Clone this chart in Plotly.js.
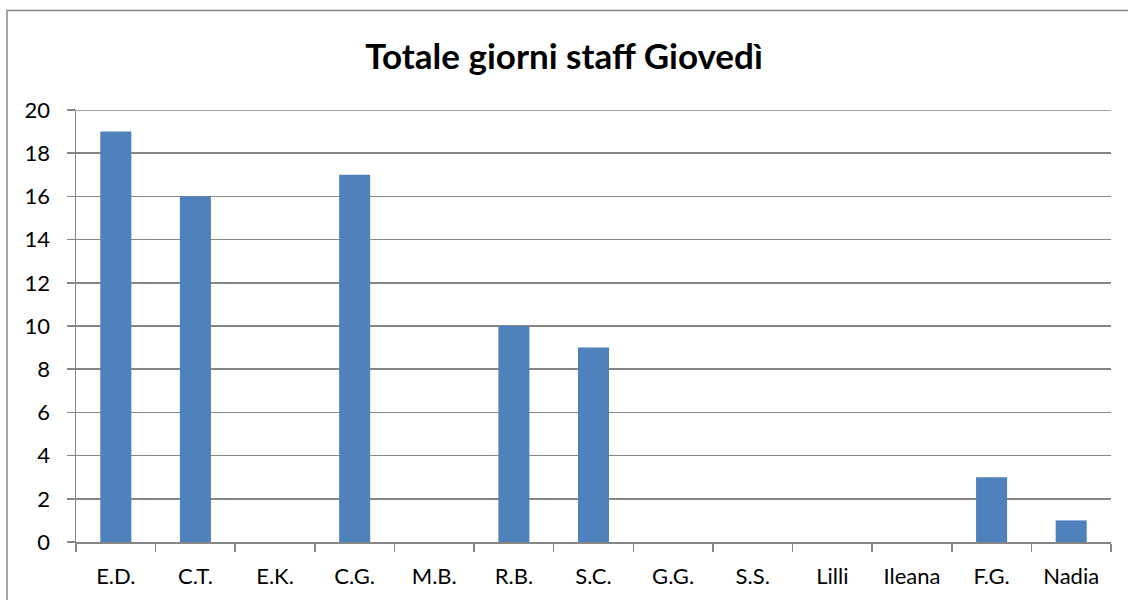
<!DOCTYPE html>
<html>
<head>
<meta charset="utf-8">
<script src="https://cdn.plot.ly/plotly-3.0.1.min.js"></script>
<style>html,body{margin:0;padding:0;background:#fff;}#chart{width:1128px;height:600px;}</style>
</head>
<body>
<div id="chart"></div>
<script>
const categories = ["E.D.", "C.T.", "E.K.", "C.G.", "M.B.", "R.B.", "S.C.", "G.G.", "S.S.", "Lilli", "Ileana", "F.G.", "Nadia"];
const values = [19, 16, 0, 17, 0, 10, 9, 0, 0, 0, 0, 3, 1];
const yTicks = [0, 2, 4, 6, 8, 10, 12, 14, 16, 18, 20];

const font = "Lato, 'Open Sans', 'Liberation Sans', sans-serif";
const L = 76, R = 1111, T = 110, B = 542;
const pw = R - L, ph = B - T;
const px = v => (v - L) / pw;
const py = v => (B - v) / ph;
const yMax = yTicks[yTicks.length - 1];

Plotly.newPlot('chart', [{
  type: 'bar',
  x: categories,
  y: values,
  marker: {color: '#4F81BD'},
  hoverinfo: 'x+y'
}], {
  width: 1128, height: 600,
  margin: {l: L, r: 1128 - R, t: T, b: 600 - B, pad: 0},
  paper_bgcolor: '#ffffff',
  plot_bgcolor: '#ffffff',
  bargap: 0.61,
  showlegend: false,
  title: {text: '<b>Totale giorni staff Giovedì</b>', font: {family: font, size: 35, color: '#000'}, x: 0.5, xanchor: 'center', y: 1 - 57 / 600, yanchor: 'middle'},
  xaxis: {
    type: 'category',
    showline: true, linecolor: '#868686', linewidth: 2,
    ticks: 'outside', ticklen: 8, tickcolor: '#868686', tickwidth: 1.5,
    tickson: 'boundaries',
    showgrid: false,
    tickfont: {family: font, size: 22, color: '#000'},
    ticklabelstandoff: 14,
    fixedrange: true
  },
  yaxis: {
    range: [0, yMax],
    tickvals: yTicks,
    showline: true, linecolor: '#868686', linewidth: 1.5,
    ticks: 'outside', ticklen: 8, tickcolor: '#868686', tickwidth: 1.5,
    showgrid: true, gridcolor: '#868686', gridwidth: 1.5,
    zeroline: false,
    tickfont: {family: font, size: 22, color: '#000'},
    ticklabelstandoff: 12,
    fixedrange: true
  },
  shapes: [{
    type: 'rect', xref: 'paper', yref: 'paper',
    x0: px(7), x1: px(1140), y0: py(620), y1: py(10.5),
    line: {color: '#868686', width: 1.5}, fillcolor: 'rgba(0,0,0,0)', layer: 'below'
  }, {
    type: 'line', xref: 'paper', yref: 'y',
    x0: 0, x1: 1, y0: yMax, y1: yMax,
    line: {color: '#868686', width: 1.5}, layer: 'below'
  }]
}, {staticPlot: true});
</script>
</body>
</html>
